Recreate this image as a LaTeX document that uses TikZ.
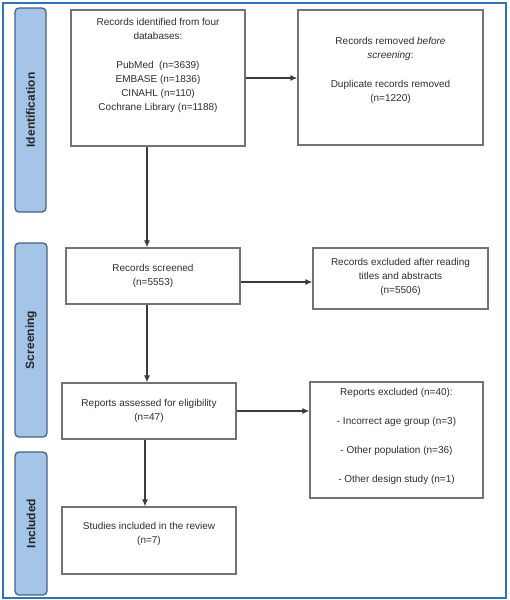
\documentclass[tikz,border=0pt]{standalone}
\usepackage{fontspec}
\setmainfont{Liberation Sans}
\usepackage{tikz}
\usetikzlibrary{arrows.meta}
\definecolor{framebl}{RGB}{46,117,182}
\definecolor{phasefill}{RGB}{164,196,232}
\definecolor{phaseline}{RGB}{72,98,128}
\definecolor{boxline}{RGB}{115,115,115}
\definecolor{flowline}{RGB}{60,60,60}
\definecolor{txtgray}{RGB}{45,45,45}
\tikzset{box/.style={draw=boxline, line width=1.4pt, inner sep=0pt},
	phase/.style={draw=phaseline, fill=phasefill, line width=1.3pt, rounded corners=4pt,
		rotate=90, text=black!85, font=\fontsize{12}{14}\selectfont\bfseries},
	flow/.style={draw=flowline, line width=1.1pt, -{Latex[length=7pt,width=6pt]}},
	boxtext/.style={align=center, text=txtgray, font=\fontsize{10}{14}\selectfont},
}

\begin{document}
\begin{tikzpicture}[x=1pt,y=-1pt]
		\useasboundingbox (0,0) rectangle (510,600);
		\draw[framebl, line width=2pt] (3,3) rectangle (506,598);
		% phases
		\node[phase, minimum width=204, minimum height=31] (idphase) at (30.5,110) {Identification};
		\node[phase, minimum width=194, minimum height=32] (scphase) at (31,340) {Screening};
		\node[phase, minimum width=143, minimum height=32] (inphase) at (31,523.5) {Included};
		% boxes
		\node[box, minimum width=174, minimum height=136] (ident) at (158,78) {};
		\node[boxtext] (identtxt) at ([yshift=13]ident.center) {Records identified from four\\ databases:\\[15pt] PubMed\ \ (n=3639)\\ EMBASE (n=1836)\\ CINAHL (n=110)\\ Cochrane Library (n=1188)};
		\node[box, minimum width=185, minimum height=135] (dupl) at (390.5,77.5) {};
		\node[boxtext] (dupltxt) at ([yshift=7]dupl.center) {Records removed \textit{before}\\ \textit{screening}:\\[15pt] Duplicate records removed\\ (n=1220)};
		\node[box, minimum width=174, minimum height=56] (screen) at (153,276) {};
		\node[boxtext] (screentxt) at (screen.center) {Records screened\\ (n=5553)};
		\node[box, minimum width=175, minimum height=61] (excl) at (400.5,278.5) {};
		\node[boxtext] (excltxt) at ([yshift=1.5]excl.center) {Records excluded after reading\\ titles and abstracts\\ (n=5506)};
		\node[box, minimum width=174, minimum height=56] (assess) at (149,411) {};
		\node[boxtext] (assesstxt) at (assess.center) {Reports assessed for eligibility\\ (n=47)};
		\node[box, minimum width=173, minimum height=116] (rexcl) at (396.5,440) {};
		\node[boxtext] (rexcltxt) at ([yshift=3.5]rexcl.center) {Reports excluded (n=40):\\[15pt] - Incorrect age group (n=3)\\[15pt] - Other population (n=36)\\[15pt] - Other design study (n=1)};
		\node[box, minimum width=174, minimum height=67] (incl) at (149,540.5) {};
		\node[boxtext] (incltxt) at ([yshift=6.5]incl.center) {Studies included in the review\\ (n=7)};
		% connectors
		\draw[flow] (ident.east) -- (ident.east -| dupl.west);
		\draw[flow] ([xshift=-11]ident.south) -- ([xshift=-11]ident.south |- screen.north);
		\draw[flow] ([yshift=-6]screen.east) -- ([yshift=-6]screen.east -| excl.west);
		\draw[flow] ([xshift=-6]screen.south) -- ([xshift=-6]screen.south |- assess.north);
		\draw[flow] (assess.east) -- (assess.east -| rexcl.west);
		\draw[flow] ([xshift=-4]assess.south) -- ([xshift=-4]assess.south |- incl.north);
\end{tikzpicture}
\end{document}
